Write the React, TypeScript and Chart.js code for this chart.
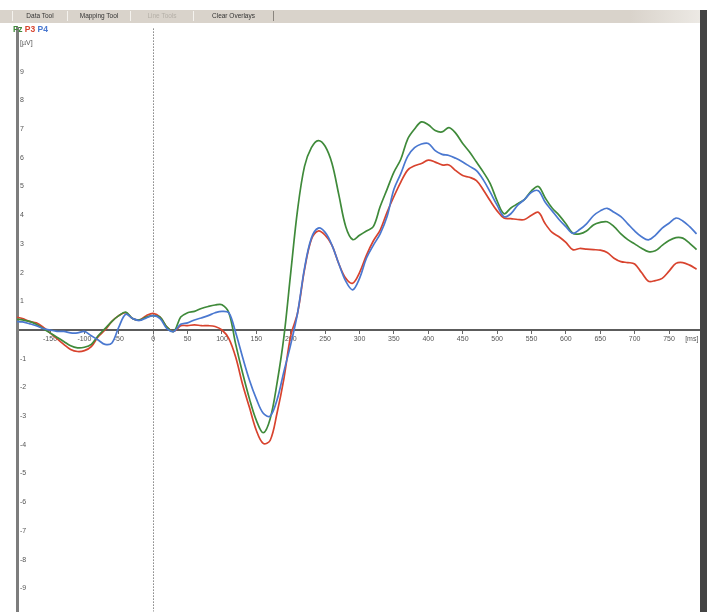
import React, { useEffect, useRef } from "react";
import { Chart, registerables } from "chart.js";

Chart.register(...registerables);

const times: number[] = [
  -200, -190, -180, -170, -160, -150, -140, -130, -120, -110,
  -100, -90, -80, -70, -60, -50, -40, -30, -20, -10,
  0, 10, 20, 30, 40, 50, 60, 70, 80, 90,
  100, 110, 120, 130, 140, 150, 160, 170, 180, 190,
  200, 210, 220, 230, 240, 250, 260, 270, 280, 290,
  300, 310, 320, 330, 340, 350, 360, 370, 380, 390,
  400, 410, 420, 430, 440, 450, 460, 470, 480, 490,
  500, 510, 520, 530, 540, 550, 560, 570, 580, 590,
  600, 610, 620, 630, 640, 650, 660, 670, 680, 690,
  700, 710, 720, 730, 740, 750, 760, 770, 780, 790,
];

const fz: number[] = [
  0.38, 0.35, 0.3, 0.2, 0.05, -0.1, -0.25, -0.4, -0.55, -0.62,
  -0.6, -0.5, -0.2, 0.05, 0.3, 0.5, 0.62, 0.4, 0.35, 0.45,
  0.5, 0.45, 0.1, -0.05, 0.45, 0.6, 0.65, 0.75, 0.82, 0.87,
  0.88, 0.6, -0.5, -1.5, -2.4, -3.15, -3.58, -3.1, -1.86, -0.25,
  2.0, 4.2, 5.7, 6.35, 6.6, 6.4, 5.8, 4.7, 3.6, 3.15,
  3.3, 3.45, 3.6, 4.3, 4.9, 5.5, 5.95, 6.65, 7.0, 7.25,
  7.15, 6.95, 6.9, 7.05, 6.85, 6.5, 6.2, 5.85, 5.5, 5.1,
  4.5, 4.05, 4.25, 4.4, 4.55, 4.85, 5.0, 4.6, 4.25, 4.0,
  3.7, 3.37, 3.35, 3.45, 3.66, 3.75, 3.77, 3.6, 3.35, 3.15,
  3.0, 2.85, 2.73, 2.76, 2.95, 3.12, 3.22, 3.2, 3.02, 2.8,
];

const p3: number[] = [
  0.45, 0.4, 0.3, 0.25, 0.1, -0.1, -0.3, -0.5, -0.68, -0.75,
  -0.72, -0.58, -0.23, 0.0, 0.3, 0.5, 0.6, 0.4, 0.35, 0.5,
  0.58, 0.45, 0.1, -0.05, 0.15, 0.15, 0.18, 0.15, 0.15, 0.12,
  0.0, -0.3, -0.95, -1.9, -2.7, -3.5, -3.95, -3.85, -2.9, -1.7,
  -0.2, 0.6, 2.1, 3.15, 3.45, 3.3, 2.95, 2.3, 1.8, 1.63,
  2.0, 2.6, 3.1, 3.48, 4.1, 4.65, 5.15, 5.57, 5.72, 5.8,
  5.92, 5.85, 5.75, 5.75, 5.55, 5.38, 5.32, 5.2, 4.88, 4.5,
  4.15, 3.9, 3.88, 3.85, 3.85, 4.0, 4.1, 3.7, 3.4, 3.25,
  3.05, 2.8, 2.84, 2.82, 2.8, 2.78, 2.7, 2.5, 2.38, 2.35,
  2.3, 2.0, 1.7, 1.72, 1.8, 2.05, 2.32, 2.35, 2.26, 2.12,
];

const p4: number[] = [
  0.3, 0.28, 0.22, 0.15, 0.05, 0.0, -0.05, -0.05, -0.1, -0.1,
  -0.05, -0.2, -0.35, -0.5, -0.45, 0.1, 0.55, 0.4, 0.33, 0.42,
  0.5, 0.4, 0.05, -0.05, 0.2, 0.25, 0.35, 0.42, 0.5, 0.6,
  0.65, 0.6, -0.1, -0.95, -1.75, -2.4, -2.9, -3.0, -2.44, -1.45,
  -0.5, 0.6, 2.15, 3.2, 3.55, 3.4, 2.95, 2.3, 1.7, 1.4,
  1.8, 2.5, 2.95, 3.35, 3.95, 4.9, 5.45, 6.05, 6.35, 6.48,
  6.5, 6.25, 6.12, 6.08, 5.98, 5.85, 5.7, 5.55, 5.23, 4.8,
  4.35, 3.95, 4.05, 4.35, 4.55, 4.8, 4.85, 4.45, 4.15, 3.85,
  3.6, 3.37, 3.5, 3.7, 3.98, 4.15, 4.24, 4.1, 3.95, 3.7,
  3.45, 3.25, 3.14, 3.3, 3.55, 3.72, 3.9, 3.8, 3.6, 3.35,
];

const xTickValues: number[] = [
  -150, -100, -50, 0, 50, 100, 150, 200, 250, 300, 350, 400, 450, 500, 550, 600, 650, 700, 750,
];
const xUnitTick = 783;
const xUnitLabel = "[ms]";
const yTickValues: number[] = [-9, -8, -7, -6, -5, -4, -3, -2, -1, 0, 1, 2, 3, 4, 5, 6, 7, 8, 9, 10];
const yUnitLabel = "[µV]";

const seriesNames = ["Fz", "P3", "P4"];
const seriesColors = ["#3f8a3a", "#d8432e", "#4a78d0"];

const toolbarButtons = [
  { label: "Data Tool", left: 12, width: 54, disabled: false },
  { label: "Mapping Tool", left: 67, width: 62, disabled: false },
  { label: "Line Tools", left: 130, width: 62, disabled: true },
  { label: "Clear Overlays", left: 193, width: 79, disabled: false },
];

export default function App() {
  const canvasRef = useRef<HTMLCanvasElement | null>(null);

  useEffect(() => {
    const canvas = canvasRef.current;
    if (!canvas) return;
    const mk = (vals: number[], i: number) => ({
      label: seriesNames[i],
      data: times.map((t, k) => ({ x: t, y: vals[k] })),
      borderColor: seriesColors[i],
      backgroundColor: seriesColors[i],
      borderWidth: 1.7,
      pointRadius: 0,
      tension: 0.35,
      fill: false,
    });
    const chart = new Chart(canvas, {
      type: "line",
      data: {
        datasets: [mk(p4, 2), mk(fz, 0), mk(p3, 1)],
      },
      options: {
        animation: false,
        responsive: false,
        maintainAspectRatio: false,
        layout: { padding: { left: 17, right: 15, top: 28.6, bottom: 0.7 } },
        plugins: {
          legend: { display: false },
          tooltip: { enabled: false },
        },
        scales: {
          x: {
            type: "linear",
            min: -198,
            max: 795,
            position: { y: 0 } as any,
            afterFit: (s: any) => {
              s.height = 0;
              s.paddingLeft = 0;
              s.paddingRight = 0;
              s.paddingTop = 0;
              s.paddingBottom = 0;
            },
            afterBuildTicks: (s: any) => {
              s.ticks = [...xTickValues, xUnitTick].map((v) => ({ value: v }));
            },
            ticks: {
              autoSkip: false,
              maxRotation: 0,
              padding: 2,
              color: "#555",
              font: { family: "Liberation Sans", size: 7 },
              callback: (v: any) => (Number(v) === xUnitTick ? xUnitLabel : String(v)),
            },
            grid: {
              drawOnChartArea: true,
              drawTicks: true,
              tickLength: 3,
              color: (ctx: any) => (ctx.tick && ctx.tick.value === 0 ? "#444" : "rgba(0,0,0,0)"),
              tickColor: (ctx: any) => (ctx.tick && ctx.tick.value === xUnitTick ? "rgba(0,0,0,0)" : "#666"),
              lineWidth: 1,
            },
            border: { display: true, color: "#5c5c5c", width: 2, dash: [1, 2] },
          },
          y: {
            type: "linear",
            min: -9.8,
            max: 10.5,
            position: "left",
            afterFit: (s: any) => {
              s.width = 0;
              s.paddingLeft = 0;
              s.paddingRight = 0;
              s.paddingTop = 0;
              s.paddingBottom = 0;
            },
            afterBuildTicks: (s: any) => {
              s.ticks = yTickValues.map((v) => ({ value: v }));
            },
            ticks: {
              mirror: true,
              padding: 3,
              autoSkip: false,
              color: "#555",
              font: { family: "Liberation Sans", size: 7 },
              callback: (v: any) => {
                const n = Number(v);
                if (n === 0) return "";
                if (n === 10) return yUnitLabel;
                return String(n);
              },
            },
            grid: { display: false, drawTicks: false },
            border: { display: true, color: "#7d7d7d", width: 3 },
          },
        },
      },
    });
    return () => chart.destroy();
  }, []);

  return (
    <div
      style={{
        position: "absolute",
        left: 0,
        top: 0,
        width: 715,
        height: 612,
        overflow: "hidden",
        background: "#ffffff",
        fontFamily: "Liberation Sans, Arial, sans-serif",
      }}
    >
      <canvas ref={canvasRef} width={715} height={612} style={{ position: "absolute", left: 0, top: 0 }} />
      <div
        style={{
          position: "absolute",
          left: 0,
          top: 10,
          width: 700,
          height: 13,
          background: "linear-gradient(to right, #d9d3cb 0%, #d9d3cb 90%, #ece9e4 100%)",
        }}
      />
      {toolbarButtons.map((b) => (
        <div
          key={b.label}
          style={{
            position: "absolute",
            left: b.left,
            top: 11,
            width: b.width,
            height: 10,
            borderRight: "1px solid #8a857e",
            borderLeft: "1px solid #f4f2ee",
            fontSize: 6.5,
            lineHeight: "10px",
            textAlign: "center",
            color: b.disabled ? "#b5b0a8" : "#333",
            whiteSpace: "nowrap",
          }}
        >
          {b.label}
        </div>
      ))}
      <div
        style={{
          position: "absolute",
          left: 13,
          top: 24,
          fontSize: 8.5,
          fontWeight: "bold",
          lineHeight: "10px",
          whiteSpace: "nowrap",
        }}
      >
        <span style={{ color: seriesColors[0] }}>{seriesNames[0]}</span>{" "}
        <span style={{ color: seriesColors[1] }}>{seriesNames[1]}</span>{" "}
        <span style={{ color: seriesColors[2] }}>{seriesNames[2]}</span>
      </div>
      <div
        style={{ position: "absolute", left: 700, top: 10, width: 7, height: 602, background: "#444" }}
      />
    </div>
  );
}
